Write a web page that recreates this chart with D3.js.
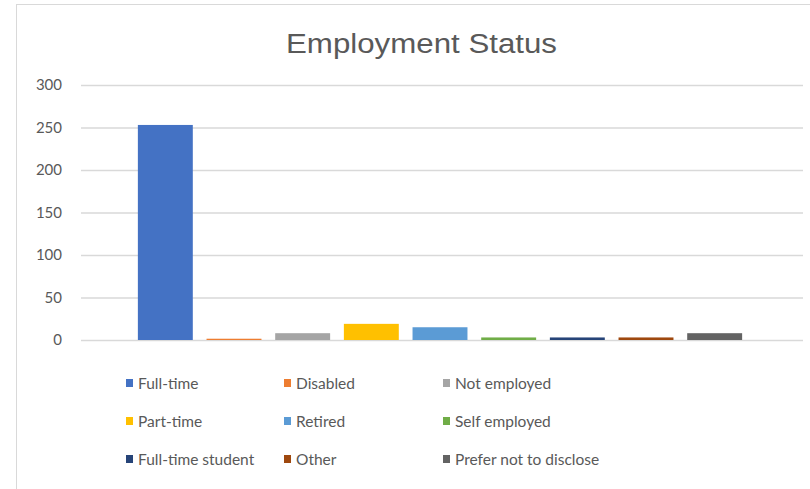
<!DOCTYPE html>
<html>
<head>
<meta charset="utf-8">
<script src="https://cdn.jsdelivr.net/npm/d3@7"></script>
<style>
  body { margin: 0; background: #fff; }
</style>
</head>
<body>
<div id="chart"></div>
<script>
// values
var series = ["Full-time", "Disabled", "Not employed", "Part-time", "Retired",
  "Self employed", "Full-time student", "Other", "Prefer not to disclose"];
var counts = [253, 1.5, 8, 19, 15, 3, 3, 3, 8];
var colors = ["#4472C4", "#ED7D31", "#A5A5A5", "#FFC000", "#5B9BD5",
  "#70AD47", "#264478", "#9E480E", "#636363"];
var y_ticks = [0, 50, 100, 150, 200, 250, 300];

const width = 810
const height = 489
const plot_left = 81
const plot_right = 803
const plot_top = 85
const plot_bottom = 340

var svg = d3.select('#chart').append('svg')
  .attr('width', width)
  .attr('height', height);

// chart area border
svg.append('rect')
  .attr('x', 16.5)
  .attr('y', 4.5)
  .attr('width', width)
  .attr('height', height)
  .attr('fill', 'none')
  .attr('stroke', '#d9d9d9');

// title (stretched to match the wide rendering in the picture)
svg.append('text')
  .attr('x', 286)
  .attr('y', 53)
  .attr('textLength', 271)
  .attr('lengthAdjust', 'spacingAndGlyphs')
  .style('font-family', 'Liberation Sans, Arial, sans-serif')
  .style('font-size', '27px')
  .attr('fill', '#595959')
  .text('Employment Status');

var y_scale = d3.scaleLinear()
  .domain([0, 300])
  .range([plot_bottom, plot_top]);

var x_scale = d3.scaleBand()
  .domain(series)
  .range([131, 749])
  .paddingInner(0.2)
  .paddingOuter(0.1);

var color = d3.scaleOrdinal().domain(series).range(colors);

// gridlines + labels via axis
var y_axis = d3.axisLeft(y_scale)
  .tickValues(y_ticks)
  .tickSize(-(plot_right - plot_left))
  .tickPadding(19);

var gy = svg.append('g')
  .attr('transform', `translate(${plot_left},0)`)
  .call(y_axis);
gy.select('.domain').remove();
gy.selectAll('line')
  .attr('stroke', '#d9d9d9')
  .attr('stroke-width', 1.3);
gy.selectAll('text')
  .attr('fill', '#595959')
  .style('font-family', 'Lato, Carlito, sans-serif')
  .style('font-size', '15px');

// bars
svg.append('g').selectAll('rect')
  .data(series)
  .enter()
  .append('rect')
  .attr('x', d => x_scale(d))
  .attr('y', (d, i) => y_scale(counts[i]))
  .attr('width', x_scale.bandwidth())
  .attr('height', (d, i) => plot_bottom - y_scale(counts[i]))
  .attr('fill', d => color(d));

// legend, 3 columns
var legend_cols = [126, 284, 443];
var legend_rows = [383, 421, 459];
var legend = svg.append('g');
series.forEach(function(item, index) {
  var g = legend.append('g')
    .attr('transform', `translate(${legend_cols[index % 3]},${legend_rows[Math.floor(index / 3)]})`);
  g.append('rect')
    .attr('x', 0)
    .attr('y', -4)
    .attr('width', 7)
    .attr('height', 8)
    .attr('fill', color(item));
  g.append('text')
    .attr('x', 12)
    .attr('y', 5.5)
    .attr('fill', '#595959')
    .style('font-family', 'Lato, Carlito, sans-serif')
    .style('font-size', '15.5px')
    .text(item);
});
</script>
</body>
</html>
